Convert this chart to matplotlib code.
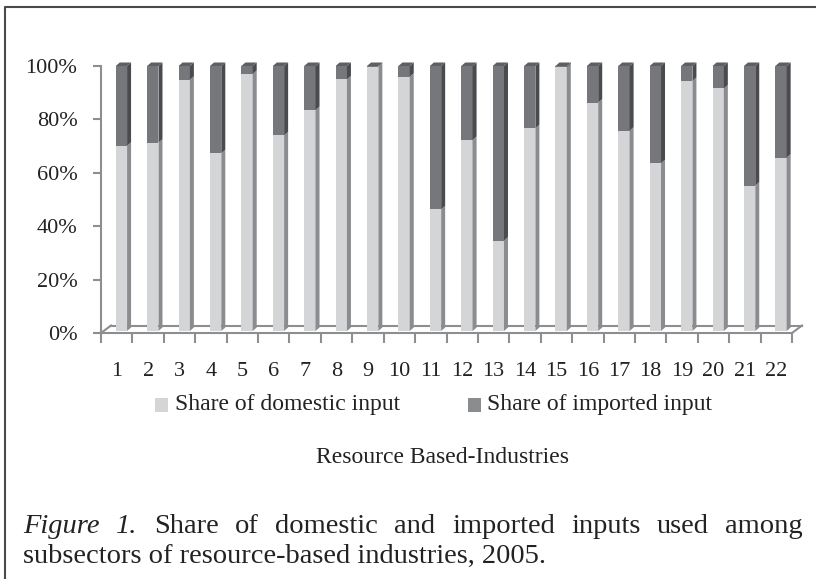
import matplotlib.pyplot as plt
from matplotlib.patches import Polygon, Rectangle
from matplotlib.lines import Line2D
import numpy as np

# data (share of domestic input, %)
industries = [str(i) for i in range(1, 23)]
domestic = [70.1, 71.3, 94.8, 67.3, 97.0, 74.0, 83.5, 95.0, 99.7, 96.0, 46.3,
            72.3, 34.6, 76.7, 99.5, 86.3, 75.8, 63.6, 94.4, 91.6, 55.2, 65.7]
imported = [100 - d for d in domestic]
ytick_labels = ["0%", "20%", "40%", "60%", "80%", "100%"]

plt.rcParams['font.family'] = ['Liberation Serif', 'DejaVu Serif']

W, H = 816, 579
fig = plt.figure(figsize=(W / 100, H / 100), dpi=100)

def fx(x):
    return x / W

def fy(y):
    return 1 - y / H

# axes box in pixels: x 101..792, y 333 (0%) .. 66 (100%)
ax = fig.add_axes([fx(101), fy(333), fx(792 - 101), (333 - 66) / H])
ax.set_xlim(0.5, 22.5)
ax.set_ylim(0, 1)

axcol = '#8e8e8e'
c_dom, c_dom_side = '#d4d5d7', '#8b8c90'
c_imp, c_imp_side, c_top = '#76777b', '#4a4b4f', '#5e5f63'

xpx = 691 / 22.0   # pixels per category
ypx = 267.0        # pixels per 100%
dx, dy = 4 / xpx, 3.5 / ypx     # bar depth
fdx, fdy = 10 / xpx, 7.5 / ypx  # floor depth
base = 2 / ypx
bw = 0.36
pos = np.arange(1, len(industries) + 1)

# floor (back edge and side edges)
ax.plot([0.5 + fdx, 22.5 + fdx], [fdy, fdy], color=axcol, lw=1.5, clip_on=False, zorder=1)
ax.plot([0.5, 0.5 + fdx], [0, fdy], color=axcol, lw=1.5, clip_on=False, zorder=1)
ax.plot([22.5, 22.5 + fdx], [0, fdy], color=axcol, lw=1.5, clip_on=False, zorder=1)

dom = np.array(domestic) / 100
imp = np.array(imported) / 100
left = pos - 0.03
ax.bar(left, dom - base, width=bw, bottom=base, align='edge', color=c_dom, lw=0, zorder=3)
ax.bar(left, imp, width=bw, bottom=dom, align='edge', color=c_imp, lw=0, zorder=3)
for l, d in zip(left, dom):
    r = l + bw
    ax.add_patch(Polygon([(r, base), (r + dx, base + dy), (r + dx, d + dy), (r, d)],
                         closed=True, color=c_dom_side, lw=0, zorder=3, clip_on=False))
    ax.add_patch(Polygon([(r, d), (r + dx, d + dy), (r + dx, 1 + dy), (r, 1)],
                         closed=True, color=c_imp_side, lw=0, zorder=3, clip_on=False))
    ax.add_patch(Polygon([(l, 1), (l + dx, 1 + dy), (r + dx, 1 + dy), (r, 1)],
                         closed=True, color=c_top, lw=0, zorder=3, clip_on=False))

for s in ['top', 'right']:
    ax.spines[s].set_visible(False)
for s in ['left', 'bottom']:
    ax.spines[s].set_color(axcol)
    ax.spines[s].set_linewidth(1.5)

ax.set_yticks(np.linspace(0, 1, 6))
ax.set_yticklabels(ytick_labels, va='center_baseline')
ax.tick_params(axis='y', length=6, width=1.5, color=axcol, pad=11, labelsize=16, labelcolor='#222222')
ax.set_xticks(pos)
ax.set_xticklabels(industries)
ax.set_xticks(np.arange(0.5, 23, 1), minor=True)
ax.tick_params(axis='x', which='major', length=0, pad=21, labelsize=16, labelcolor='#222222')
ax.tick_params(axis='x', which='minor', length=7, width=1.5, color=axcol)

# legend
fig.add_artist(Rectangle((fx(155), fy(412)), 13 / W, 14 / H, color=c_dom, lw=0))
fig.text(fx(175), fy(410), "Share of domestic input", fontsize=17, va='baseline', color='#222222')
fig.add_artist(Rectangle((fx(468), fy(412)), 13 / W, 14 / H, color='#8b8c90', lw=0))
fig.text(fx(487), fy(410), "Share of imported input", fontsize=17, va='baseline', color='#222222')

fig.text(fx(443), fy(463), "Resource Based-Industries", fontsize=17, ha='center', va='baseline',
         color='#222222')

# caption, first line justified
words = ["Figure", "1.", "Share", "of", "domestic", "and", "imported", "inputs", "used", "among"]
styles = ['italic', 'italic'] + ['normal'] * 8
texts = [fig.text(0, fy(533), w, fontsize=20.5, style=st, va='baseline', color='#222222')
         for w, st in zip(words, styles)]
renderer = fig.canvas.get_renderer()
widths = [t.get_window_extent(renderer).width for t in texts]
x0, x1 = 23, 803
gap = (x1 - x0 - sum(widths)) / (len(words) - 1)
x = x0
for t, w in zip(texts, widths):
    t.set_x(fx(x))
    x += w + gap
fig.text(fx(23), fy(563), "subsectors of resource-based industries, 2005.", fontsize=20.5,
         va='baseline', color='#222222')

# frame
fig.add_artist(Line2D([fx(5), fx(5), 1], [0, fy(7), fy(7)], color='#4a4a4a', lw=1.5))

fig.savefig('out.png', dpi=100)
